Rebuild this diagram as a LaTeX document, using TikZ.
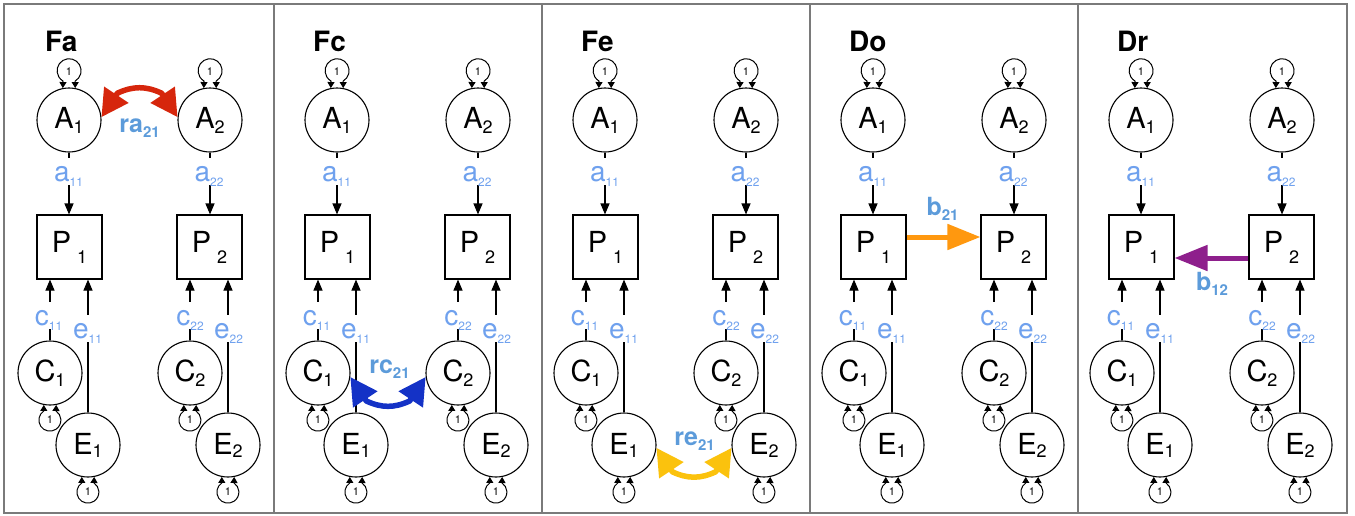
\documentclass[tikz,border=0pt]{standalone}
\usepackage{fontspec}
\setmainfont{TeX Gyre Heros}
\usetikzlibrary{arrows.meta}
\definecolor{lblue}{HTML}{6FA1EE}
\definecolor{bblue}{HTML}{5C9BDA}
\definecolor{cred}{HTML}{D6260C}
\definecolor{cblue}{HTML}{1432C6}
\definecolor{cyellow}{HTML}{FBC20D}
\definecolor{corange}{HTML}{FF980F}
\definecolor{cpurple}{HTML}{8E1F8C}
\definecolor{framegray}{HTML}{7A7A7A}
\newcommand{\fsz}[1]{\fontsize{#1}{#1}\selectfont}
\newcommand{\nm}[3]{{\fsz{29}#1}\raisebox{#3}{\fsz{18}#2}}
\newcommand{\pl}[2]{{\fsz{28}#1}\raisebox{-5pt}{\fsz{12}#2}}
\newcommand{\bl}[2]{{\fsz{25}\bfseries #1}\raisebox{-5pt}{\fsz{15}\bfseries #2}}
\newcommand{\toploop}[1]{\draw[selfloop] (#1.79) -- ++(0,7) arc[start angle=-59.45,end angle=239.45,radius=12] -- (#1.101);}
\newcommand{\botloop}[1]{\draw[selfloop] (#1.259) -- ++(0,-6) arc[start angle=123.7,end angle=416.3,radius=11] -- (#1.281);}
\tikzset{
  latent/.style={circle,draw,line width=1.1pt,minimum size=64pt,inner sep=0pt},
  manifest/.style={rectangle,draw,line width=1.1pt,minimum width=65pt,minimum height=64pt,inner sep=0pt},
  pathar/.style={line width=1.1pt,-{Triangle[length=11pt,width=9pt]}},
  selfloop/.style={line width=1pt,{Triangle[length=6pt,width=7pt]}-{Triangle[length=6pt,width=7pt]}},
  onelbl/.style={font=\fsz{11},inner sep=0pt},
  plbl/.style={text=lblue,fill=white,inner sep=0pt,text height=23pt,text depth=4pt,anchor=base},
  blbl/.style={text=bblue,inner sep=0pt,anchor=base},
  curvar/.style={line width=5.5pt,line join=round,{Triangle[length=27pt,width=28pt]}-{Triangle[length=27pt,width=28pt]}},
  straightar/.style={line width=5pt,-{Triangle[length=33pt,width=25pt]}},
  titlelbl/.style={font=\fsz{28}\bfseries,anchor=base west,inner sep=0pt},
  frameline/.style={draw=framegray,line width=1.4pt}
}
\begin{document}
\begin{tikzpicture}[x=1pt,y=1pt]
\useasboundingbox (0,0) rectangle (1355,-515);
\draw[frameline] (4,-4) rectangle (1347,-513);
\foreach \d in {274,542,810,1078} {\draw[frameline] (\d,-4) -- (\d,-513);}
\foreach \k/\t in {0/Fa,1/Fc,2/Fe,3/Do,4/Dr} {
\begin{scope}[xshift=\k*268pt]
  \node[titlelbl] (T-\k) at (45,-51) {\t};
  \node[latent] (A1-\k) at (69,-120) {\nm{A}{1}{-5pt}};
  \node[latent] (A2-\k) at (210,-120) {\nm{A}{2}{-5pt}};
  \node[manifest] (P1-\k) at (69.5,-247) {\nm{P}{\kern6pt 1}{-11pt}};
  \node[manifest] (P2-\k) at (209.5,-247) {\nm{P}{\kern6pt 2}{-11pt}};
  \node[latent] (C1-\k) at (50,-373) {\nm{C}{1}{-5pt}};
  \node[latent] (C2-\k) at (190,-373) {\nm{C}{2}{-5pt}};
  \node[latent] (E1-\k) at (88,-445) {\nm{E}{1}{-3pt}};
  \node[latent] (E2-\k) at (228,-445) {\nm{E}{2}{-3pt}};
  % paths
  \draw[pathar] (A1-\k.south) -- (A1-\k.south |- P1-\k.north);
  \draw[pathar] (A2-\k.south) -- (A2-\k.south |- P2-\k.north);
  \draw[pathar] (C1-\k.north) -- (C1-\k.north |- P1-\k.south);
  \draw[pathar] (C2-\k.north) -- (C2-\k.north |- P2-\k.south);
  \draw[pathar] (E1-\k.north) -- (E1-\k.north |- P1-\k.south);
  \draw[pathar] (E2-\k.north) -- (E2-\k.north |- P2-\k.south);
  \node[plbl] (la1-\k) at (68.5,-181) {\pl{a}{11}};
  \node[plbl] (la2-\k) at (209,-181) {\pl{a}{22}};
  \node[plbl] (lc1-\k) at (48.5,-325) {\pl{c}{11}};
  \node[plbl] (lc2-\k) at (190,-325) {\pl{c}{22}};
  \node[plbl] (le1-\k) at (87.5,-338) {\pl{e}{11}};
  \node[plbl] (le2-\k) at (228.5,-338) {\pl{e}{22}};
  % self loops
  \toploop{A1-\k} \toploop{A2-\k}
  \botloop{C1-\k} \botloop{C2-\k}
  \botloop{E1-\k} \botloop{E2-\k}
  \node[onelbl] (oA1-\k) at ([yshift=16pt]A1-\k.north) {1};
  \node[onelbl] (oA2-\k) at ([yshift=16pt]A2-\k.north) {1};
  \node[onelbl] (oC1-\k) at ([yshift=-14pt]C1-\k.south) {1};
  \node[onelbl] (oC2-\k) at ([yshift=-14pt]C2-\k.south) {1};
  \node[onelbl] (oE1-\k) at ([yshift=-14pt]E1-\k.south) {1};
  \node[onelbl] (oE2-\k) at ([yshift=-14pt]E2-\k.south) {1};
\end{scope}
}
% coloured paths
\draw[curvar,cred] (A1-0.5) -- ++(16,24) to[out=25,in=155] ([shift={(-16,24)}]A2-0.175) -- (A2-0.175);
\node[blbl] (ra) at (139.5,-132) {\bl{ra}{21}};
\draw[curvar,cblue] (C1-1.-7) -- ++(16,-24) to[out=-25,in=-155] ([shift={(-16,-24)}]C2-1.187) -- (C2-1.187);
\node[blbl] (rc) at (389.5,-373) {\bl{rc}{21}};
\draw[curvar,cyellow] (E1-2.-5) -- ++(16,-24) to[out=-25,in=-155] ([shift={(-16,-24)}]E2-2.185) -- (E2-2.185);
\node[blbl] (re) at (694.5,-445) {\bl{re}{21}};
\draw[straightar,corange] ([yshift=10pt]P1-3.east) -- ([yshift=10pt]P2-3.west);
\node[blbl] (b21) at (942.5,-215) {\bl{b}{21}};
\draw[straightar,cpurple] ([yshift=-11pt]P2-4.west) -- ([yshift=-11pt]P1-4.east);
\node[blbl] (b12) at (1212,-290) {\bl{b}{12}};
\end{tikzpicture}
\end{document}
